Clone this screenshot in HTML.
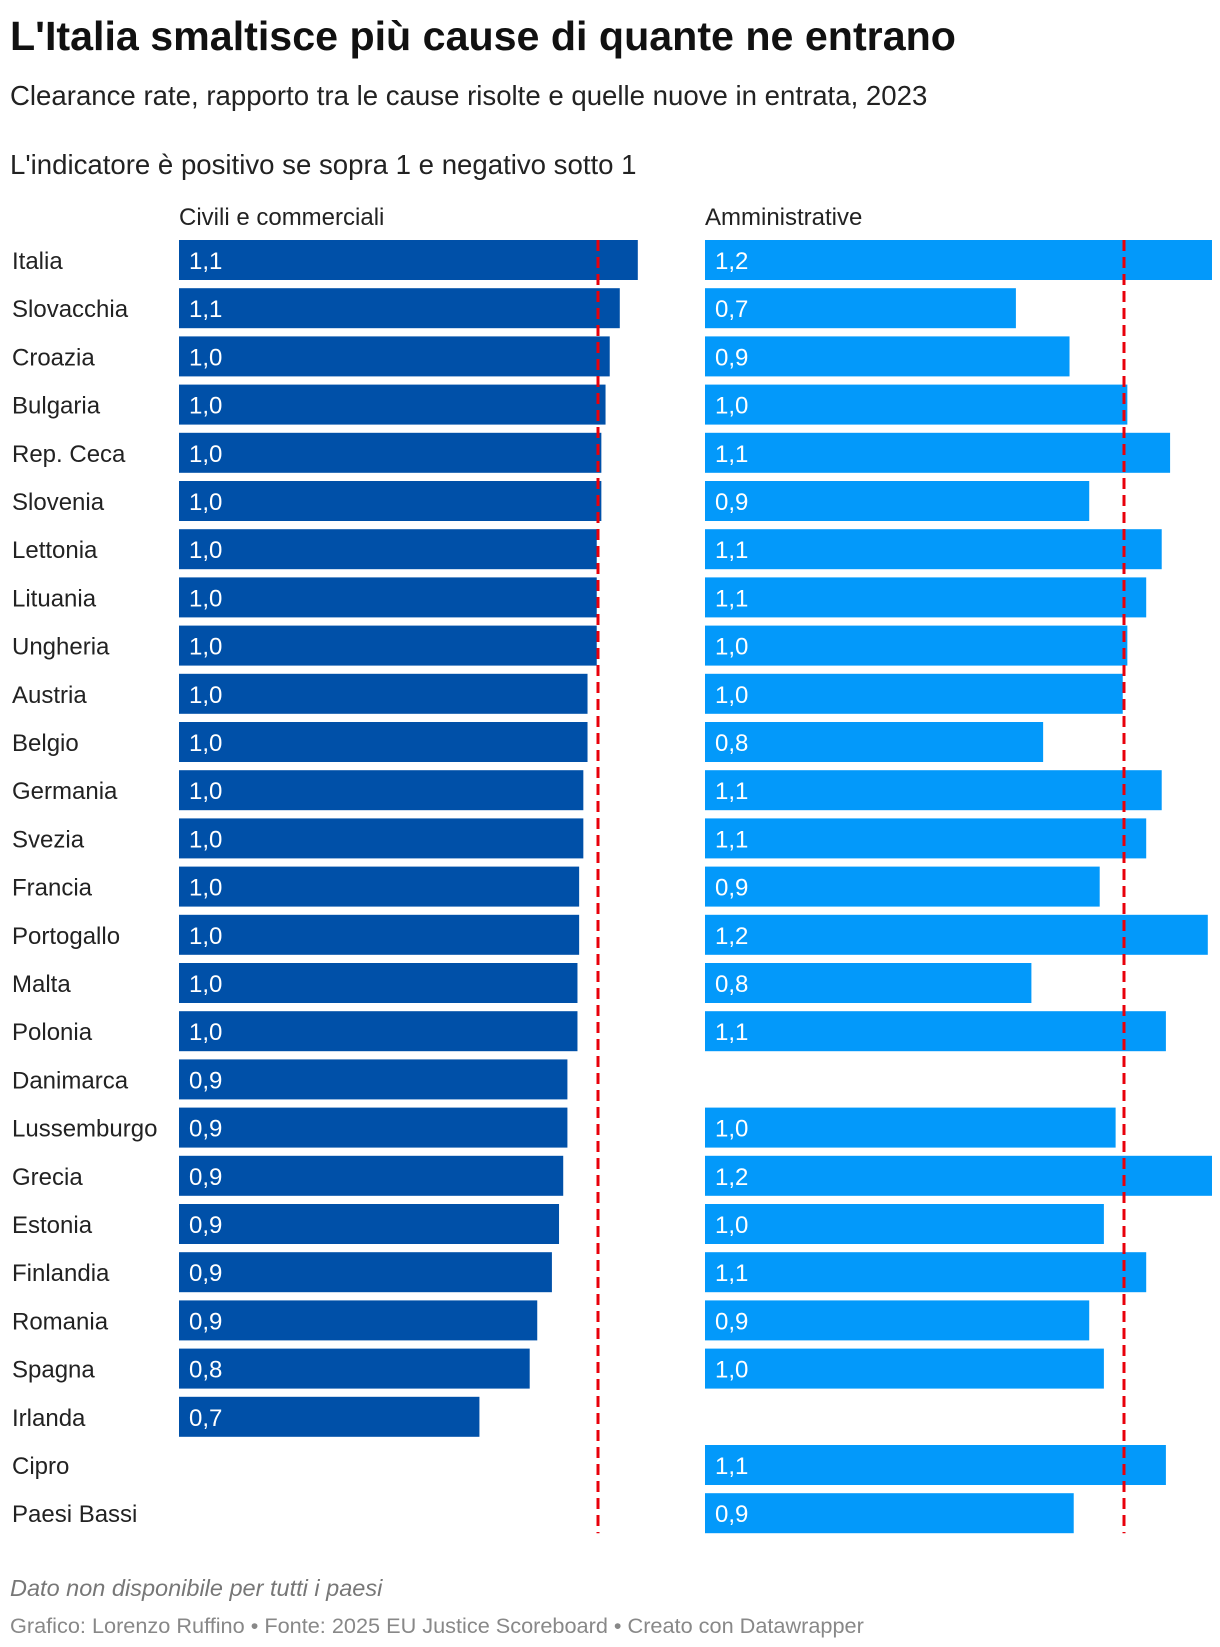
<!DOCTYPE html>
<html><head><meta charset="utf-8">
<style>
body{margin:0;background:#fff;}
svg text{font-family:"Liberation Sans",Arial,sans-serif;}
</style></head>
<body>
<svg id="chart" width="1220" height="1642" viewBox="0 0 1220 1642" xmlns="http://www.w3.org/2000/svg">
<text x="10" y="50" font-size="41.2" font-weight="bold" fill="#111">L'Italia smaltisce più cause di quante ne entrano</text>
<text x="10" y="105" font-size="27.6" fill="#222">Clearance rate, rapporto tra le cause risolte e quelle nuove in entrata, 2023</text>
<text x="10" y="174" font-size="27.6" fill="#222">L'indicatore è positivo se sopra 1 e negativo sotto 1</text>
<text x="179" y="225" font-size="24" fill="#222">Civili e commerciali</text>
<text x="705" y="225" font-size="24" fill="#222">Amministrative</text>
<g id="rows"></g>
<text x="10" y="1596" font-size="23.5" font-style="italic" fill="#777">Dato non disponibile per tutti i paesi</text>
<text x="10" y="1633" font-size="21.7" fill="#888">Grafico: Lorenzo Ruffino • Fonte: 2025 EU Justice Scoreboard • Creato con Datawrapper</text>
</svg>
<script>
const countries=["Italia","Slovacchia","Croazia","Bulgaria","Rep. Ceca","Slovenia","Lettonia","Lituania","Ungheria","Austria","Belgio","Germania","Svezia","Francia","Portogallo","Malta","Polonia","Danimarca","Lussemburgo","Grecia","Estonia","Finlandia","Romania","Spagna","Irlanda","Cipro","Paesi Bassi"];
const civil=[1.095,1.052,1.028,1.018,1.008,1.008,0.997,0.997,0.997,0.975,0.975,0.965,0.965,0.955,0.955,0.951,0.951,0.927,0.927,0.917,0.907,0.890,0.855,0.837,0.717,null,null];
const admin=[1.21,0.742,0.870,1.008,1.110,0.917,1.090,1.053,1.008,0.997,0.807,1.090,1.053,0.942,1.200,0.779,1.100,null,0.980,1.21,0.952,1.053,0.917,0.952,null,1.100,0.880];
const reference=[1.0];
const NS="http://www.w3.org/2000/svg";
const g=document.getElementById('rows');
const svg=document.getElementById('chart');
const rowTop=240,pitch=48.2,barH=40,unit=419;
const civX=179,admX=705;
const xCiv=v=>civX+v*unit, xAdm=v=>admX+v*unit;
const yRow=i=>rowTop+i*pitch;
function mk(tag,attrs){const e=document.createElementNS(NS,tag);for(const k in attrs)e.setAttribute(k,attrs[k]);return e;}
const fmt=v=>v.toFixed(1).replace('.',',');
countries.forEach((c,i)=>{
  const y=yRow(i);
  const lab=mk('text',{x:12,y:y+29,'font-size':24,fill:'#222'});
  
  
  lab.textContent=c;g.appendChild(lab);
  [[civil,xCiv,civX,'#0050A8','civil-bar'],[admin,xAdm,admX,'#0399FA','admin-bar']].forEach(([arr,sc,x0,col,nm])=>{
    const v=arr[i]; if(v==null) return;
    const r=mk('rect',{x:x0,y:y,width:Math.min(sc(v),1220)-x0,height:barH,fill:col});
    
    
    g.appendChild(r);
    const t=mk('text',{x:x0+10,y:y+29,'font-size':24,fill:'#fff'});
    
    
    t.textContent=fmt(v);g.appendChild(t);
  });
});
const yEnd=yRow(countries.length-1)+barH;
[[xCiv,'civil-reference-line'],[xAdm,'admin-reference-line']].forEach(([sc,nm])=>{
  const l=mk('line',{x1:sc(reference[0]),x2:sc(reference[0]),y1:rowTop,y2:yEnd,stroke:'#E8000B','stroke-width':3,'stroke-dasharray':'11 6'});
  
  
  svg.appendChild(l);
});
</script>
</body></html>
